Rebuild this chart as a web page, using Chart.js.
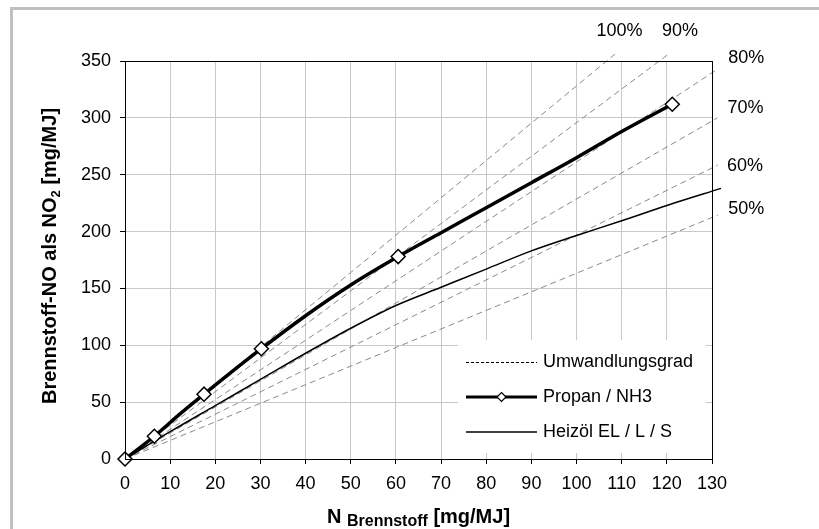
<!DOCTYPE html>
<html><head><meta charset="utf-8">
<script src="https://cdn.jsdelivr.net/npm/chart.js@4"></script>
<style>html,body{margin:0;padding:0;background:#fff}canvas{display:block}</style>
</head><body>
<canvas id="c" width="819" height="529"></canvas>
<script>
// ---- data ----
const xTicks = [0,10,20,30,40,50,60,70,80,90,100,110,120,130];
const yTicks = [0,50,100,150,200,250,300,350];

const umwLabels = ['100%','90%','80%','70%','60%','50%'];
const umwEndX   = [108.5, 120.7, 131.3, 131.2, 131.3, 131.3];
const umwEndY   = [356, 357, 343, 300, 258.5, 214.5];
const umwLabelX = [109.5, 122.9, 137.6, 137.4, 137.3, 137.6];
const umwLabelY = [376, 376, 352.6, 308.8, 257.9, 220.2];

const propanX = [0, 6.5, 12, 17.5, 22.8, 30.2, 40, 50, 60.5, 70, 80, 90, 100, 110, 121.2];
const propanY = [0, 20, 39, 57, 74, 97, 126, 153, 178, 199, 221, 243, 265, 288, 312];
const propanMarkX = [0, 6.5, 17.5, 30.2, 60.5, 121.2];
const propanMarkY = [0, 20, 57, 97, 178, 312];

const heizolX = [0, 10, 20, 30, 40, 50, 60, 70, 80, 90, 100, 110, 120, 132];
const heizolY = [0, 24, 47, 70, 93, 115, 135, 151, 167, 183, 196.5, 209.5, 223, 238];

const legendLabels = ['Umwandlungsgrad', 'Propan / NH3', 'Heizöl EL / L / S'];
const yTitleParts = ['Brennstoff-NO als NO', '2', ' [mg/MJ]'];
const xTitleParts = ['N ', 'Brennstoff', ' [mg/MJ]'];

// ---- helpers ----
const pts = (xs, ys) => xs.map((x, i) => ({x, y: ys[i]}));
const FONT = '"Liberation Sans", Arial, sans-serif';

const datasets = [];
datasets.push({
  data: pts(propanMarkX, propanMarkY), showLine: false, pointStyle: 'rectRot',
  pointRadius: 7, pointBackgroundColor: '#fff', pointBorderColor: '#000',
  pointBorderWidth: 1.5, clip: false, order: 0
});
datasets.push({
  data: pts(propanX, propanY), borderColor: '#000', borderWidth: 3.5,
  pointRadius: 0, cubicInterpolationMode: 'monotone', clip: false, order: 1
});
datasets.push({
  data: pts(heizolX, heizolY), borderColor: '#000', borderWidth: 1.5,
  pointRadius: 0, cubicInterpolationMode: 'monotone', clip: false, order: 2
});
umwLabels.forEach((l, i) => {
  datasets.push({
    data: [{x: 0, y: 0}, {x: umwEndX[i], y: umwEndY[i]}],
    borderColor: '#8a8a8a', borderWidth: 1, borderDash: [6, 4],
    pointRadius: 0, clip: false, order: 3
  });
});

const decor = {
  id: 'decor',
  beforeDraw(chart) {
    const ctx = chart.ctx;
    ctx.save();
    ctx.fillStyle = '#fff';
    ctx.fillRect(0, 0, chart.width, chart.height);
    ctx.strokeStyle = '#c0c0c0';
    ctx.lineWidth = 3;
    ctx.strokeRect(11.5, 8.5, 840, 560);
    ctx.restore();
  },
  afterDraw(chart) {
    const ctx = chart.ctx, a = chart.chartArea;
    const xs = chart.scales.x, ys = chart.scales.y;
    ctx.save();
    // plot border
    ctx.strokeStyle = '#000'; ctx.lineWidth = 1;
    ctx.strokeRect(Math.round(a.left) + 0.5, Math.round(a.top) + 0.5,
                   Math.round(a.right - a.left), Math.round(a.bottom - a.top));
    // percent labels
    ctx.fillStyle = '#000';
    ctx.font = '18px ' + FONT;
    ctx.textAlign = 'center'; ctx.textBaseline = 'middle';
    umwLabels.forEach((l, i) => {
      ctx.fillText(l, xs.getPixelForValue(umwLabelX[i]), ys.getPixelForValue(umwLabelY[i]));
    });
    // legend
    const lx = 458, ly = 340, lw = 248, lh = 113;
    ctx.fillStyle = '#fff';
    ctx.fillRect(lx, ly, lw, lh);
    const rows = [362, 397, 432];
    const s0 = 466, s1 = 537;
    ctx.strokeStyle = '#000'; ctx.lineWidth = 1; ctx.setLineDash([3, 2]);
    ctx.beginPath(); ctx.moveTo(s0, rows[0] + 0.5); ctx.lineTo(s1, rows[0] + 0.5); ctx.stroke();
    ctx.setLineDash([]);
    ctx.lineWidth = 3;
    ctx.beginPath(); ctx.moveTo(s0, rows[1]); ctx.lineTo(s1, rows[1]); ctx.stroke();
    const cx = (s0 + s1) / 2, r = 4.5;
    ctx.beginPath();
    ctx.moveTo(cx, rows[1] - r); ctx.lineTo(cx + r, rows[1]);
    ctx.lineTo(cx, rows[1] + r); ctx.lineTo(cx - r, rows[1]); ctx.closePath();
    ctx.fillStyle = '#fff'; ctx.fill(); ctx.lineWidth = 1.2; ctx.stroke();
    ctx.lineWidth = 1.5;
    ctx.beginPath(); ctx.moveTo(s0, rows[2]); ctx.lineTo(s1, rows[2]); ctx.stroke();
    ctx.fillStyle = '#000';
    ctx.font = '18px ' + FONT;
    ctx.textAlign = 'left'; ctx.textBaseline = 'middle';
    legendLabels.forEach((t, i) => ctx.fillText(t, 543, rows[i]));

    // x title with subscript
    ctx.textBaseline = 'alphabetic';
    const fMain = 'bold 20px ' + FONT, fSub = 'bold 16px ' + FONT;
    ctx.font = fMain; const w0 = ctx.measureText(xTitleParts[0]).width;
    const w2 = ctx.measureText(xTitleParts[2]).width;
    ctx.font = fSub; const w1 = ctx.measureText(xTitleParts[1]).width;
    let x = (a.left + a.right) / 2 - (w0 + w1 + w2) / 2;
    const base = 523;
    ctx.font = fMain; ctx.fillText(xTitleParts[0], x, base); x += w0;
    ctx.font = fSub; ctx.fillText(xTitleParts[1], x, base + 3); x += w1;
    ctx.font = fMain; ctx.fillText(xTitleParts[2], x, base);

    // y title (rotated) with subscript 2
    ctx.translate(56, 256);
    ctx.rotate(-Math.PI / 2);
    const fSub2 = 'bold 13px ' + FONT;
    ctx.font = fMain; const v0 = ctx.measureText(yTitleParts[0]).width;
    const v2 = ctx.measureText(yTitleParts[2]).width;
    ctx.font = fSub2; const v1 = ctx.measureText(yTitleParts[1]).width;
    let p = -(v0 + v1 + v2) / 2;
    ctx.font = fMain; ctx.fillText(yTitleParts[0], p, 0); p += v0;
    ctx.font = fSub2; ctx.fillText(yTitleParts[1], p, 4); p += v1;
    ctx.font = fMain; ctx.fillText(yTitleParts[2], p, 0);
    ctx.restore();
  }
};

new Chart(document.getElementById('c'), {
  type: 'line',
  data: { datasets },
  options: {
    responsive: false, animation: false, devicePixelRatio: 1,
    layout: { padding: { top: 61, right: 107, left: 0, bottom: 0 } },
    plugins: { legend: { display: false }, tooltip: { enabled: false } },
    scales: {
      x: {
        type: 'linear', min: 0, max: 130,
        afterBuildTicks: s => { s.ticks = xTicks.map(v => ({value: v})); },
        afterFit: s => { s.height = 70; },
        grid: { color: '#c8c8c8', lineWidth: 1, tickColor: '#000', tickLength: 5 },
        border: { color: '#000', width: 1 },
        ticks: { color: '#000', font: { family: FONT, size: 18 }, padding: 9, maxRotation: 0, autoSkip: false }
      },
      y: {
        type: 'linear', min: 0, max: 350,
        afterBuildTicks: s => { s.ticks = yTicks.map(v => ({value: v})); },
        afterFit: s => { s.width = 125; },
        grid: { color: '#c8c8c8', lineWidth: 1, tickColor: '#000', tickLength: 5 },
        border: { color: '#000', width: 1 },
        ticks: { color: '#000', font: { family: FONT, size: 18 }, padding: 9 }
      }
    }
  },
  plugins: [decor]
});
</script>
</body></html>
